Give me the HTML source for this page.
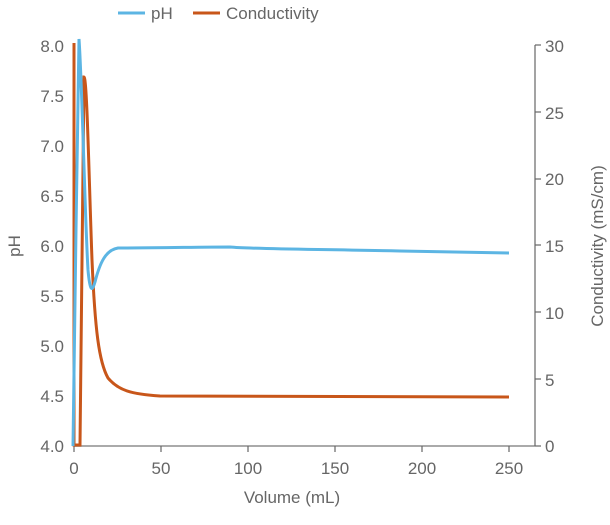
<!DOCTYPE html>
<html><head><style>body{margin:0;background:#fff}</style></head><body>
<svg width="610" height="520" xmlns="http://www.w3.org/2000/svg" font-family="Liberation Sans, sans-serif" fill="#666">
<g font-size="17" text-anchor="end">
<text x="64" y="52">8.0</text><text x="64" y="102">7.5</text><text x="64" y="152">7.0</text><text x="64" y="202">6.5</text><text x="64" y="252">6.0</text><text x="64" y="302">5.5</text><text x="64" y="352">5.0</text><text x="64" y="402">4.5</text><text x="64" y="452">4.0</text>
</g>
<g font-size="17" text-anchor="start">
<text x="545" y="52">30</text><text x="545" y="119">25</text><text x="545" y="185">20</text><text x="545" y="252">15</text><text x="545" y="319">10</text><text x="545" y="386">5</text><text x="545" y="452">0</text>
</g>
<g font-size="17" text-anchor="middle">
<text x="74" y="474">0</text><text x="161" y="474">50</text><text x="248" y="474">100</text><text x="335" y="474">150</text><text x="422" y="474">200</text><text x="509" y="474">250</text>
<text x="292" y="503">Volume (mL)</text>
</g>
<text font-size="17" text-anchor="middle" transform="translate(20,246) rotate(-90)">pH</text>
<text font-size="17" text-anchor="middle" transform="translate(603,246) rotate(-90)">Conductivity (mS/cm)</text>
<line x1="74" y1="446" x2="535" y2="446" stroke="#aaa" stroke-width="2"/>
<line x1="535" y1="45" x2="535" y2="446" stroke="#666" stroke-width="1.2"/>
<g stroke="#666" stroke-width="1.2">
<line x1="535" y1="45" x2="541" y2="45"/><line x1="535" y1="112" x2="541" y2="112"/><line x1="535" y1="179" x2="541" y2="179"/><line x1="535" y1="245" x2="541" y2="245"/><line x1="535" y1="312" x2="541" y2="312"/><line x1="535" y1="379" x2="541" y2="379"/><line x1="535" y1="446" x2="541" y2="446"/>
<line x1="74" y1="446" x2="74" y2="452"/><line x1="161" y1="446" x2="161" y2="452"/><line x1="248" y1="446" x2="248" y2="452"/><line x1="335" y1="446" x2="335" y2="452"/><line x1="422" y1="446" x2="422" y2="452"/><line x1="509" y1="446" x2="509" y2="452"/>
</g>
<path d="M74,43 L74,445 L80,445 L84,77 C87,77 89,180 92,260 C95,330 99,362 108,378 C118,390 130,394 160,396 C200,397 250,397 509,397" fill="none" stroke="#c8561a" stroke-width="3"/>
<path d="M73,446 L76,230 L79,39 C82,80 85,220 88,270 C90,292 92,292 95,282 C100,262 106,250 118,248 C160,248 200,247 230,247 C250,249 300,249 400,251 L509,253" fill="none" stroke="#5cb5e3" stroke-width="3"/>
<line x1="118" y1="13" x2="145" y2="13" stroke="#5cb5e3" stroke-width="3"/>
<text x="151" y="19" font-size="17">pH</text>
<line x1="193" y1="13" x2="220" y2="13" stroke="#c8561a" stroke-width="3"/>
<text x="226" y="19" font-size="17">Conductivity</text>
</svg>
</body></html>
